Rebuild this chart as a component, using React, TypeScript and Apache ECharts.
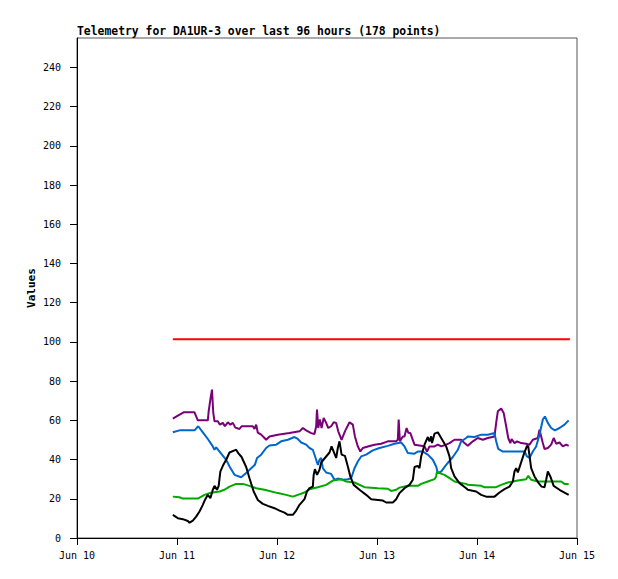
import React, { useEffect, useRef } from "react";
import * as echarts from "echarts";

// x = hours since Jun 10 00:00, y = value
const TITLE = "Telemetry for DA1UR-3 over last 96 hours (178 points)";
const Y_NAME = "Values";
const DAY_LABELS = ["Jun 10", "Jun 11", "Jun 12", "Jun 13", "Jun 14", "Jun 15"];

const redSeries: [number, number][] = [
  [23.0, 101.3], [118.3, 101.3],
];

const purpleSeries: [number, number][] = [
  [23.0, 60.9], [24.2, 62.4], [25.6, 64.1], [28.2, 64.1], [29.0, 60.0], [31.4, 60.0],
  [31.6, 64.6], [32.0, 70.6], [32.4, 75.7], [32.7, 63.9], [33.0, 59.5], [33.8, 59.5],
  [34.3, 57.8], [35.0, 58.7], [35.5, 57.0], [36.2, 59.0], [36.8, 57.8], [37.4, 58.7],
  [38.0, 56.3], [39.0, 55.6], [39.5, 57.0], [42.2, 57.0], [42.6, 55.6], [43.0, 57.8],
  [43.4, 53.7], [44.2, 52.7], [45.0, 51.0], [45.4, 50.1], [46.2, 51.8], [48.2, 52.7],
  [51.0, 53.5], [53.4, 54.4], [54.2, 56.1], [55.0, 54.9], [56.2, 53.5], [57.0, 53.0],
  [57.4, 57.0], [57.6, 65.5], [57.9, 56.1], [58.3, 60.4], [58.7, 56.1], [59.2, 61.2],
  [59.8, 58.7], [60.3, 56.1], [61.0, 57.0], [61.6, 59.0], [62.2, 58.7], [62.7, 54.4],
  [63.5, 50.1], [64.3, 54.4], [65.4, 59.0], [66.2, 57.8], [66.7, 51.8], [67.4, 46.7],
  [68.0, 44.1], [68.6, 45.9], [69.8, 46.7], [71.4, 47.6], [73.0, 48.1], [74.6, 49.3],
  [76.6, 49.3], [77.0, 50.1], [77.2, 60.4], [77.5, 49.3], [78.2, 51.8], [78.6, 51.8],
  [79.1, 56.1], [79.5, 53.7], [80.0, 53.5], [81.0, 47.6], [82.6, 47.0], [83.4, 46.7],
  [84.0, 44.1], [84.6, 46.7], [85.8, 46.7], [86.6, 47.6], [87.4, 46.7], [88.6, 47.6],
  [89.4, 48.4], [90.6, 50.1], [92.2, 50.1], [93.0, 48.4], [93.8, 47.0], [95.0, 49.3],
  [96.2, 51.0], [97.4, 50.1], [98.6, 51.0], [100.2, 51.8], [100.6, 58.7], [101.0, 64.6],
  [101.8, 66.0], [102.4, 63.8], [103.0, 57.0], [103.5, 51.0], [104.0, 48.4], [104.3, 50.5],
  [105.0, 48.4], [105.6, 49.3], [106.6, 48.4], [107.8, 48.1], [108.6, 47.6], [109.4, 50.1],
  [110.6, 51.0], [111.0, 55.2], [111.4, 51.8], [111.8, 48.4], [112.2, 45.4], [113.0, 45.9],
  [113.8, 47.6], [114.4, 51.0], [115.0, 48.1], [115.8, 48.7], [116.6, 46.7], [117.4, 47.6],
  [118.0, 47.0],
];

const blueSeries: [number, number][] = [
  [23.0, 53.9], [24.6, 54.9], [28.2, 54.9], [29.1, 57.0], [30.2, 53.9], [31.4, 50.5],
  [32.6, 46.7], [33.0, 45.0], [33.4, 46.2], [34.6, 43.0], [35.8, 39.9], [36.6, 36.5],
  [37.8, 32.2], [39.4, 31.0], [40.6, 33.1], [41.8, 35.6], [42.7, 37.3], [43.2, 40.8],
  [44.2, 42.5], [45.4, 45.9], [46.2, 47.2], [47.8, 47.6], [49.0, 49.3], [50.6, 50.1],
  [52.2, 51.5], [53.0, 50.5], [53.8, 48.7], [55.0, 47.6], [55.8, 45.9], [56.6, 45.0],
  [57.4, 39.9], [57.8, 37.3], [58.2, 39.9], [58.6, 40.8], [59.0, 35.6], [59.8, 33.4],
  [61.0, 32.7], [61.8, 29.7], [62.6, 30.3], [63.8, 29.7], [65.0, 30.0], [65.8, 30.5],
  [66.6, 35.6], [67.4, 39.0], [68.2, 41.6], [69.4, 42.5], [71.0, 44.7], [72.6, 45.9],
  [74.6, 47.0], [76.2, 48.1], [77.8, 48.7], [78.6, 46.7], [79.4, 43.3], [81.0, 43.0],
  [81.8, 44.1], [83.0, 44.1], [84.2, 42.5], [85.4, 39.9], [86.2, 36.5], [86.6, 33.1],
  [87.4, 33.9], [88.6, 37.3], [90.2, 41.3], [91.4, 45.0], [92.2, 49.3], [93.4, 51.0],
  [93.8, 51.8], [95.4, 51.5], [97.0, 52.7], [98.6, 52.7], [100.2, 53.5], [100.6, 49.3],
  [101.1, 45.4], [102.2, 44.1], [107.4, 44.1], [108.0, 41.6], [108.6, 40.8], [109.4, 44.1],
  [110.2, 46.7], [111.0, 52.7], [111.8, 60.4], [112.3, 62.0], [113.0, 58.7], [113.8, 56.1],
  [114.7, 54.9], [115.8, 56.1], [117.0, 57.8], [118.0, 60.0],
];

const greenSeries: [number, number][] = [
  [23.0, 21.1], [24.6, 20.8], [25.4, 20.1], [29.0, 20.1], [30.6, 22.0], [31.8, 22.9],
  [34.2, 23.7], [35.4, 24.6], [36.6, 26.2], [38.2, 27.6], [39.8, 27.6], [41.4, 26.6],
  [43.0, 25.4], [45.0, 24.6], [48.2, 22.9], [50.2, 22.0], [51.8, 21.1], [53.0, 22.0],
  [54.6, 23.2], [55.8, 24.9], [57.8, 25.9], [59.8, 27.1], [61.4, 29.3], [63.4, 30.0],
  [64.6, 28.8], [66.6, 28.3], [69.0, 25.9], [72.2, 25.4], [74.6, 25.1], [75.4, 24.0],
  [76.6, 24.6], [77.4, 25.7], [79.4, 26.6], [81.8, 26.6], [82.6, 27.6], [84.2, 28.8],
  [85.8, 30.0], [86.2, 31.4], [86.4, 33.9], [87.0, 33.1], [88.2, 32.2], [89.4, 30.5],
  [90.6, 28.8], [92.2, 28.0], [93.4, 27.6], [93.8, 27.1], [97.0, 26.6], [97.8, 25.9],
  [100.6, 25.9], [101.8, 27.1], [103.4, 28.3], [105.8, 29.3], [107.8, 30.0], [108.3, 31.7],
  [109.0, 29.7], [110.6, 28.8], [116.2, 28.8], [117.0, 27.6], [118.0, 27.6],
];

const blackSeries: [number, number][] = [
  [23.0, 11.8], [24.2, 10.1], [25.4, 9.6], [26.6, 8.7], [27.0, 7.8], [27.8, 8.9],
  [28.6, 10.9], [29.4, 13.5], [30.2, 16.9], [30.7, 19.4], [31.4, 22.0], [32.0, 20.3],
  [32.6, 24.6], [33.0, 26.6], [33.6, 24.6], [34.0, 26.6], [34.4, 33.9], [35.0, 36.8],
  [35.8, 39.9], [36.6, 43.6], [37.8, 44.7], [38.2, 45.0], [38.7, 43.3], [39.5, 41.3],
  [40.6, 36.2], [41.4, 30.5], [42.4, 23.7], [43.4, 19.4], [44.6, 17.4], [45.8, 16.4],
  [47.4, 15.2], [48.6, 14.0], [49.8, 12.9], [50.6, 11.8], [51.8, 11.8], [52.6, 14.0],
  [53.4, 16.9], [54.6, 19.8], [55.2, 23.7], [55.8, 25.4], [56.6, 26.2], [56.8, 32.2],
  [57.1, 35.1], [57.6, 32.2], [58.2, 34.8], [58.6, 38.5], [59.5, 40.8], [60.6, 43.6],
  [61.1, 46.7], [61.6, 44.1], [62.2, 40.8], [62.6, 45.9], [63.0, 49.3], [63.5, 42.5],
  [64.3, 41.9], [65.0, 36.5], [65.6, 31.4], [66.4, 27.1], [67.8, 24.6], [69.4, 22.0],
  [70.6, 19.8], [73.4, 19.1], [74.2, 18.1], [75.8, 18.1], [76.6, 19.8], [77.4, 22.9],
  [78.6, 25.4], [79.8, 27.1], [80.6, 29.7], [81.0, 36.2], [81.8, 36.8], [82.2, 35.6],
  [82.6, 41.6], [83.4, 47.6], [84.2, 51.5], [84.6, 49.3], [85.0, 51.8], [85.2, 48.4],
  [85.8, 53.2], [86.6, 53.9], [87.4, 51.0], [88.6, 46.7], [89.4, 41.6], [89.8, 35.6],
  [90.6, 31.4], [91.8, 28.0], [93.4, 25.4], [93.8, 24.6], [95.8, 23.7], [97.0, 22.0],
  [98.2, 21.1], [100.2, 21.1], [101.4, 23.2], [102.6, 24.9], [103.8, 26.2], [104.6, 28.8],
  [105.0, 33.9], [105.4, 35.6], [105.8, 33.4], [106.4, 37.3], [107.2, 42.5], [108.0, 47.0],
  [108.3, 46.7], [109.0, 35.6], [109.8, 31.4], [110.7, 28.3], [111.5, 26.2], [112.2, 25.9],
  [112.6, 29.7], [113.0, 33.9], [113.6, 31.4], [114.4, 26.6], [115.8, 24.6], [117.0, 23.2],
  [118.0, 22.0],
];

const MONO = "'DejaVu Sans Mono', 'Liberation Mono', monospace";

export default function App() {
  const ref = useRef<HTMLDivElement>(null);
  useEffect(() => {
    if (!ref.current) return;
    const chart = echarts.init(ref.current, undefined, { renderer: "svg" });
    const line = (data: [number, number][], color: string) => ({
      type: "line",
      data,
      showSymbol: false,
      symbol: "none",
      lineStyle: { color, width: 2 },
      itemStyle: { color },
      emphasis: { disabled: true },
    });
    chart.setOption({
      animation: false,
      backgroundColor: "#ffffff",
      title: {
        text: TITLE,
        left: 77,
        top: 25,
        padding: 0,
        textStyle: { fontFamily: MONO, fontWeight: "bold", fontSize: 11.4, color: "#000" },
      },
      grid: {
        left: 77,
        top: 38,
        width: 500,
        height: 500,
        show: true,
        borderColor: "#555",
        borderWidth: 1,
        backgroundColor: "#fff",
      },
      xAxis: {
        type: "value",
        min: 0,
        max: 120,
        interval: 24,
        axisLine: { show: true, lineStyle: { color: "#000", width: 1 } },
        axisTick: { show: true, length: 7, lineStyle: { color: "#000" } },
        axisLabel: {
          margin: 12,
          fontFamily: MONO,
          fontSize: 10,
          color: "#000",
          formatter: (v: number) => DAY_LABELS[Math.round(v / 24)] ?? "",
        },
        splitLine: { show: false },
      },
      yAxis: {
        type: "value",
        min: 0,
        max: 255,
        interval: 20,
        name: Y_NAME,
        nameLocation: "middle",
        nameGap: 40,
        nameMoveOverlap: false,
        nameTextStyle: { fontFamily: MONO, fontWeight: "bold", fontSize: 11, color: "#000" },
        axisLine: { show: true, lineStyle: { color: "#000", width: 1 } },
        axisTick: { show: true, length: 7, lineStyle: { color: "#000" } },
        axisLabel: {
          margin: 16,
          fontFamily: MONO,
          fontSize: 10,
          color: "#000",
          showMaxLabel: false,
          formatter: (v: number) => (v <= 240 ? String(v) : ""),
        },
        splitLine: { show: false },
      },
      series: [
        line(redSeries, "#ff0000"),
        line(purpleSeries, "#7a0078"),
        line(blueSeries, "#0066cc"),
        line(greenSeries, "#00a800"),
        line(blackSeries, "#000000"),
      ],
    });
    return () => chart.dispose();
  }, []);
  return (
    <div
      ref={ref}
      style={{ position: "absolute", left: 0, top: 0, width: 618, height: 579, background: "#fff" }}
    />
  );
}
